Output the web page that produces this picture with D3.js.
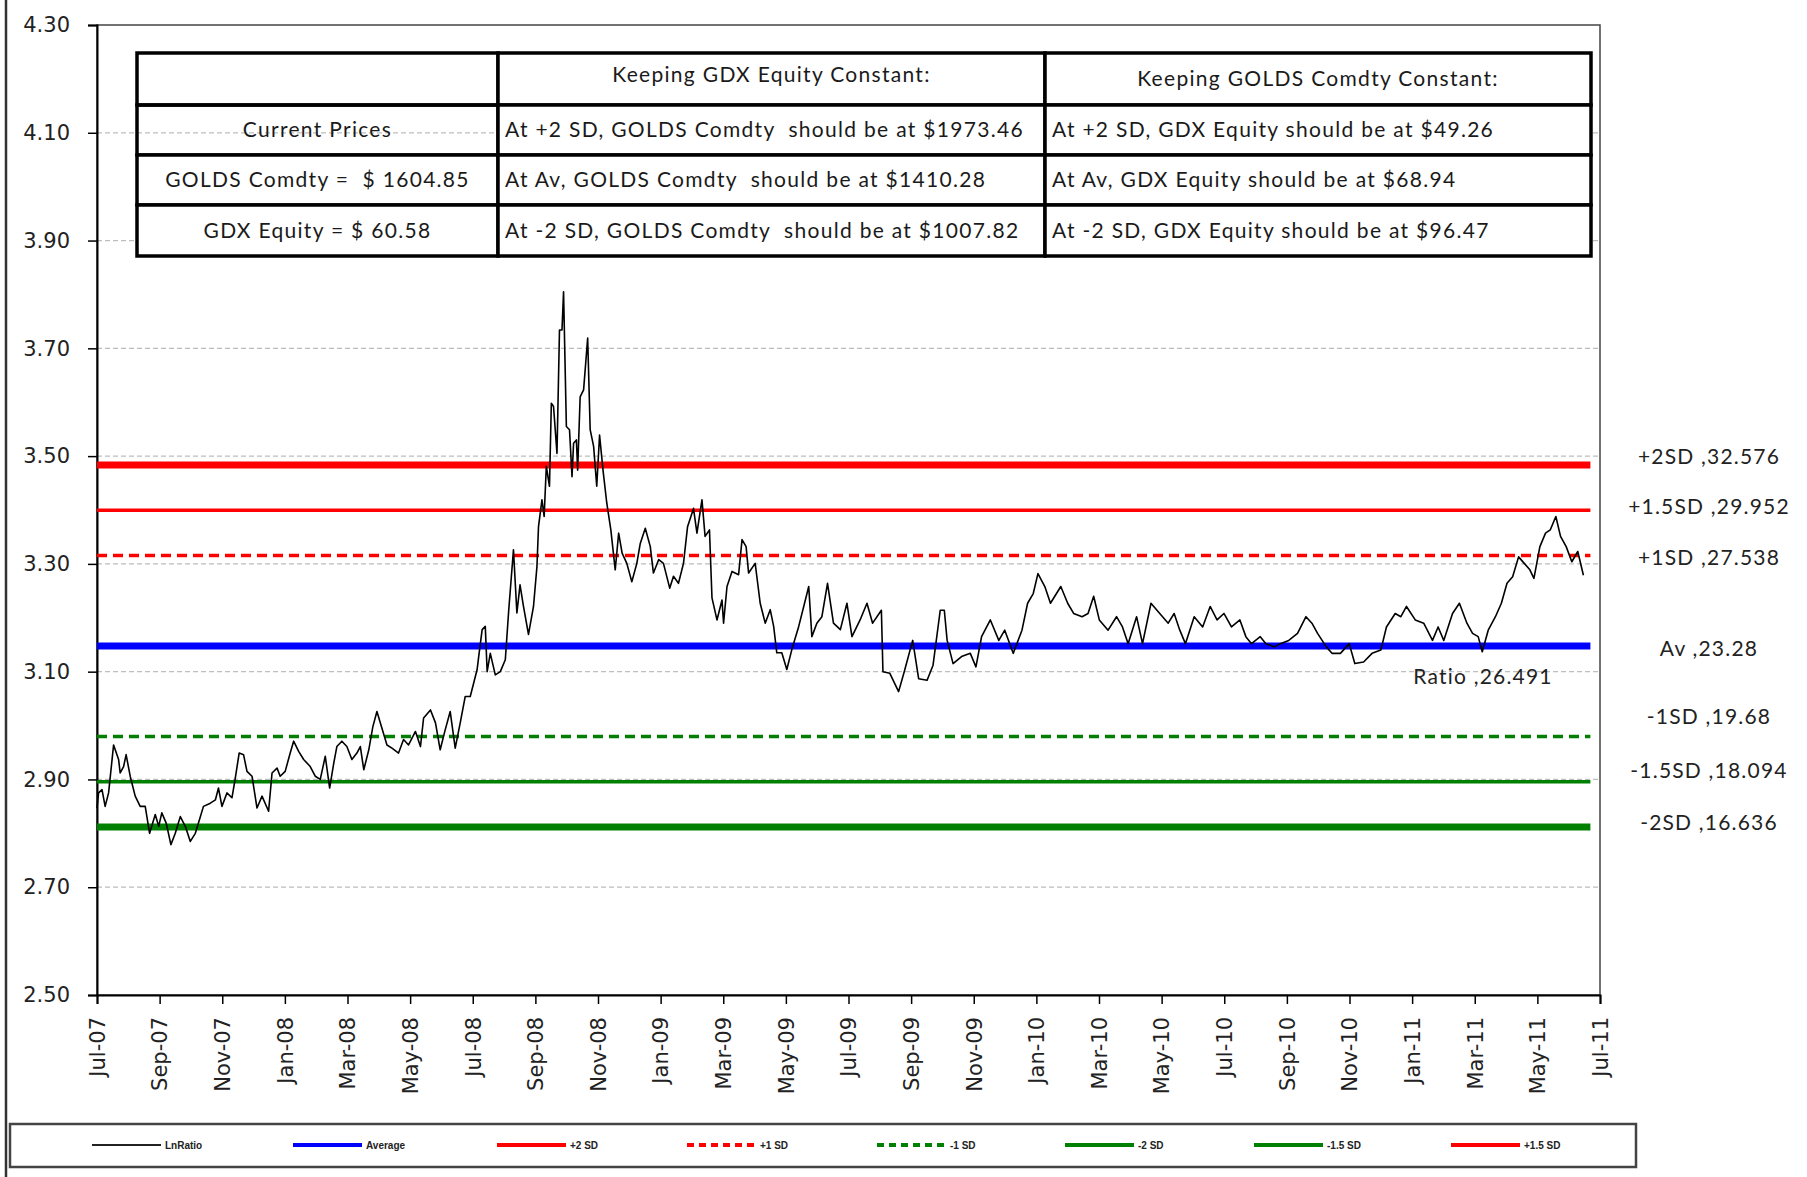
<!DOCTYPE html>
<html>
<head>
<meta charset="utf-8">
<script src="https://cdn.jsdelivr.net/npm/d3@7"></script>
<style>
  body { margin: 0; background: #fff; }
  svg { display: block; }
</style>
</head>
<body>
<div id="chart"></div>
<script>
// x axis labels, one every two months
var monthTicks = ["Jul-07", "Sep-07", "Nov-07", "Jan-08", "Mar-08", "May-08", "Jul-08", "Sep-08", "Nov-08",
    "Jan-09", "Mar-09", "May-09", "Jul-09", "Sep-09", "Nov-09", "Jan-10", "Mar-10", "May-10", "Jul-10",
    "Sep-10", "Nov-10", "Jan-11", "Mar-11", "May-11", "Jul-11"];
var yTicks = [2.50, 2.70, 2.90, 3.10, 3.30, 3.50, 3.70, 3.90, 4.10, 4.30];

// LnRatio series: months since Jul-07 and value
var months = [0.00, 0.05, 0.16, 0.26, 0.37, 0.53, 0.69, 0.74, 0.85, 0.93, 1.06, 1.22, 1.38, 1.54, 1.68, 1.86,
    1.97, 2.07, 2.21, 2.36, 2.50, 2.66, 2.82, 2.98, 3.14, 3.24, 3.40, 3.62, 3.78, 3.88, 3.99, 4.15, 4.31, 4.41,
    4.54, 4.68, 4.79, 4.95, 5.11, 5.27, 5.48, 5.59, 5.75, 5.85, 6.01, 6.17, 6.28, 6.44, 6.60, 6.81, 6.97, 7.13,
    7.29, 7.43, 7.56, 7.66, 7.82, 7.98, 8.14, 8.30, 8.41, 8.52, 8.68, 8.81, 8.94, 9.10, 9.26, 9.42, 9.63, 9.79,
    9.95, 10.17, 10.33, 10.43, 10.65, 10.81, 10.96, 11.12, 11.28, 11.44, 11.60, 11.76, 11.92, 12.03, 12.14,
    12.19, 12.30, 12.40, 12.46, 12.56, 12.72, 12.88, 13.04, 13.15, 13.30, 13.41, 13.51, 13.62, 13.78, 13.94,
    14.05, 14.10, 14.21, 14.28, 14.35, 14.45, 14.51, 14.58, 14.69, 14.77, 14.85, 14.90, 14.99, 15.09, 15.17,
    15.22, 15.31, 15.35, 15.43, 15.54, 15.67, 15.75, 15.86, 15.96, 16.05, 16.16, 16.28, 16.41, 16.55, 16.66,
    16.77, 16.92, 17.08, 17.24, 17.35, 17.51, 17.67, 17.77, 17.94, 18.09, 18.29, 18.41, 18.57, 18.73, 18.86,
    19.05, 19.16, 19.32, 19.42, 19.56, 19.64, 19.80, 19.96, 20.01, 20.12, 20.28, 20.49, 20.60, 20.73, 20.81,
    21.02, 21.18, 21.34, 21.50, 21.61, 21.71, 21.87, 22.03, 22.19, 22.41, 22.57, 22.73, 22.83, 22.99, 23.15,
    23.33, 23.52, 23.74, 23.95, 24.11, 24.37, 24.59, 24.77, 25.05, 25.10, 25.32, 25.60, 25.78, 26.05, 26.24,
    26.51, 26.70, 26.93, 27.06, 27.15, 27.34, 27.61, 27.89, 28.07, 28.25, 28.53, 28.80, 28.99, 29.26, 29.54,
    29.72, 29.90, 30.05, 30.27, 30.45, 30.78, 31.00, 31.19, 31.46, 31.65, 31.83, 32.01, 32.29, 32.56, 32.75,
    32.93, 33.20, 33.39, 33.66, 33.94, 34.21, 34.40, 34.58, 34.76, 35.04, 35.31, 35.55, 35.77, 35.99, 36.23,
    36.50, 36.69, 36.87, 37.15, 37.33, 37.60, 37.79, 38.06, 38.34, 38.61, 38.80, 38.98, 39.26, 39.44, 39.71,
    39.99, 40.17, 40.45, 40.72, 41.00, 41.18, 41.46, 41.64, 41.82, 42.10, 42.37, 42.65, 42.83, 43.01, 43.29,
    43.51, 43.75, 43.93, 44.11, 44.24, 44.43, 44.66, 44.85, 45.03, 45.21, 45.40, 45.58, 45.76, 45.89, 46.08,
    46.26, 46.41, 46.59, 46.74, 46.92, 47.10, 47.29, 47.47];
var lnRatio = [2.847, 2.875, 2.881, 2.850, 2.875, 2.964, 2.937, 2.912, 2.924, 2.946, 2.906, 2.869, 2.850, 2.850,
    2.800, 2.835, 2.813, 2.838, 2.819, 2.779, 2.800, 2.831, 2.813, 2.785, 2.800, 2.819, 2.850, 2.856, 2.862,
    2.884, 2.850, 2.875, 2.866, 2.900, 2.949, 2.946, 2.915, 2.906, 2.847, 2.869, 2.841, 2.912, 2.921, 2.906,
    2.915, 2.949, 2.971, 2.952, 2.937, 2.924, 2.906, 2.900, 2.943, 2.884, 2.930, 2.961, 2.971, 2.961, 2.937,
    2.949, 2.961, 2.918, 2.955, 2.998, 3.026, 2.995, 2.964, 2.958, 2.949, 2.974, 2.964, 2.989, 2.961, 3.014,
    3.029, 3.005, 2.955, 2.992, 3.026, 2.958, 3.005, 3.054, 3.054, 3.079, 3.104, 3.128, 3.178, 3.184, 3.100,
    3.134, 3.094, 3.100, 3.122, 3.215, 3.326, 3.209, 3.261, 3.221, 3.169, 3.221, 3.295, 3.369, 3.419, 3.388,
    3.481, 3.444, 3.598, 3.592, 3.505, 3.734, 3.734, 3.805, 3.555, 3.549, 3.462, 3.524, 3.530, 3.474, 3.610,
    3.623, 3.719, 3.549, 3.518, 3.444, 3.539, 3.474, 3.413, 3.363, 3.289, 3.357, 3.320, 3.301, 3.267, 3.301,
    3.338, 3.366, 3.332, 3.283, 3.308, 3.301, 3.255, 3.277, 3.264, 3.301, 3.369, 3.403, 3.357, 3.419, 3.351,
    3.363, 3.237, 3.196, 3.233, 3.190, 3.258, 3.286, 3.280, 3.345, 3.332, 3.283, 3.301, 3.227, 3.190, 3.215,
    3.184, 3.135, 3.135, 3.104, 3.141, 3.184, 3.221, 3.258, 3.165, 3.190, 3.202, 3.264, 3.190, 3.178, 3.227,
    3.165, 3.196, 3.227, 3.190, 3.214, 3.100, 3.097, 3.063, 3.100, 3.158, 3.087, 3.084, 3.112, 3.214, 3.214,
    3.158, 3.115, 3.128, 3.134, 3.109, 3.165, 3.196, 3.158, 3.177, 3.134, 3.177, 3.227, 3.245, 3.282, 3.258,
    3.227, 3.258, 3.227, 3.208, 3.202, 3.208, 3.240, 3.196, 3.177, 3.202, 3.183, 3.152, 3.202, 3.152, 3.227,
    3.208, 3.190, 3.208, 3.177, 3.152, 3.202, 3.183, 3.221, 3.196, 3.208, 3.183, 3.196, 3.165, 3.152, 3.165,
    3.152, 3.146, 3.152, 3.158, 3.171, 3.202, 3.190, 3.171, 3.146, 3.134, 3.134, 3.152, 3.115, 3.118, 3.134,
    3.140, 3.183, 3.208, 3.202, 3.221, 3.196, 3.190, 3.158, 3.183, 3.158, 3.208, 3.227, 3.190, 3.171, 3.165,
    3.137, 3.177, 3.202, 3.227, 3.264, 3.276, 3.313, 3.301, 3.289, 3.273, 3.332, 3.357, 3.363, 3.388, 3.351,
    3.332, 3.304, 3.323, 3.279];

// standard deviation bands (ratio values, drawn on the log scale)
var bandNames = ["+2SD", "+1.5SD", "+1SD", "Av", "-1SD", "-1.5SD", "-2SD"];
var bandRatios = [32.576, 29.952, 27.538, 23.28, 19.68, 18.094, 16.636];
var currentRatio = 26.491;

// table text
var tablePrices = ["Current Prices", "GOLDS Comdty =  $ 1604.85", "GDX Equity = $ 60.58"];
var tableGdxConst = ["Keeping GDX Equity Constant:", "At +2 SD, GOLDS Comdty  should be at $1973.46",
    "At Av, GOLDS Comdty  should be at $1410.28", "At -2 SD, GOLDS Comdty  should be at $1007.82"];
var tableGoldConst = ["Keeping GOLDS Comdty Constant:", "At +2 SD, GDX Equity should be at $49.26",
    "At Av, GDX Equity should be at $68.94", "At -2 SD, GDX Equity should be at $96.47"];

var legendNames = ["LnRatio", "Average", "+2 SD", "+1 SD", "-1 SD", "-2 SD", "-1.5 SD", "+1.5 SD"];

(function() {
    var width = 1807;
    var height = 1177;
    var plot = {left: 97, right: 1600, top: 25, bottom: 995};

    var svg = d3.select('#chart')
        .append('svg')
        .attr('width', width)
        .attr('height', height);

    var x = d3.scaleLinear()
        .domain([0, 48])
        .range([plot.left, plot.right]);

    var y = d3.scaleLinear()
        .domain([2.5, 4.3])
        .range([plot.bottom, plot.top]);

    // style of every band line
    var bandStyle = {
        "+2SD":   {color: "#ff0000", w: 7},
        "+1.5SD": {color: "#ff0000", w: 3.5},
        "+1SD":   {color: "#ff0000", w: 3.5, dash: "10,6"},
        "Av":     {color: "#0000ff", w: 7},
        "-1SD":   {color: "#008000", w: 3.5, dash: "10,6"},
        "-1.5SD": {color: "#008000", w: 3.5},
        "-2SD":   {color: "#008000", w: 7}
    };
    var labelY = {"+2SD": 457, "+1.5SD": 507, "+1SD": 558, "Av": 649, "-1SD": 717, "-1.5SD": 771, "-2SD": 823};

    // outer chart-area border on the left
    svg.append('line')
        .attr('x1', 6).attr('x2', 6).attr('y1', 0).attr('y2', height)
        .attr('stroke', '#333').attr('stroke-width', 2.5);

    // grid lines
    svg.append('g')
        .selectAll('line')
        .data(yTicks.slice(1, -1))
        .join('line')
            .attr('x1', plot.left).attr('x2', plot.right)
            .attr('y1', d => y(d)).attr('y2', d => y(d))
            .attr('stroke', '#bdbdbd')
            .attr('stroke-width', 1.3)
            .attr('stroke-dasharray', '5,3');

    // plot frame
    svg.append('rect')
        .attr('x', plot.left).attr('y', plot.top)
        .attr('width', plot.right - plot.left).attr('height', plot.bottom - plot.top)
        .attr('fill', 'none').attr('stroke', '#444').attr('stroke-width', 1.5);

    // y axis
    svg.append('g')
        .attr('transform', `translate(${plot.left}, 0)`)
        .call(d3.axisLeft(y).tickValues(yTicks).tickFormat(d3.format('.2f')).tickSize(9).tickPadding(18))
        .call(g => g.select('.domain').attr('stroke', '#000').attr('stroke-width', 2))
        .call(g => g.selectAll('.tick line').attr('stroke', '#000').attr('stroke-width', 1.5))
        .call(g => g.selectAll('text').attr('font-family', 'DejaVu Sans').attr('font-size', 21).attr('fill', '#222'));

    // x axis with rotated month labels
    svg.append('g')
        .attr('transform', `translate(0, ${plot.bottom})`)
        .call(d3.axisBottom(x).tickValues(d3.range(0, 49, 2)).tickFormat((d, i) => monthTicks[i]).tickSize(9))
        .call(g => g.select('.domain').attr('stroke', '#000').attr('stroke-width', 2))
        .call(g => g.selectAll('.tick line').attr('stroke', '#000').attr('stroke-width', 1.5))
        .call(g => g.selectAll('text')
            .attr('font-family', 'DejaVu Sans').attr('font-size', 21).attr('fill', '#222')
            .attr('text-anchor', 'end')
            .attr('transform', 'rotate(-90)')
            .attr('x', -22).attr('y', 0).attr('dy', '0.35em'));

    // band lines
    var x0 = x(months[0]);
    var x1 = x(months[months.length - 1]) + 7;
    svg.append('g')
        .selectAll('line')
        .data(bandNames)
        .join('line')
            .attr('x1', x0).attr('x2', x1)
            .attr('y1', (d, i) => y(Math.log(bandRatios[i])))
            .attr('y2', (d, i) => y(Math.log(bandRatios[i])))
            .attr('stroke', d => bandStyle[d].color)
            .attr('stroke-width', d => bandStyle[d].w)
            .attr('stroke-dasharray', d => bandStyle[d].dash || null);

    // LnRatio line
    var line = d3.line()
        .x((d, i) => x(months[i]))
        .y(d => y(d));
    svg.append('path')
        .datum(lnRatio)
        .attr('d', line)
        .attr('fill', 'none')
        .attr('stroke', '#000')
        .attr('stroke-width', 1.6)
        .attr('stroke-linejoin', 'round');

    // band labels on the right
    svg.append('g')
        .selectAll('text')
        .data(bandNames)
        .join('text')
            .attr('x', 1709)
            .attr('y', d => labelY[d])
            .attr('dy', '0.35em')
            .attr('text-anchor', 'middle')
            .attr('font-family', 'Lato')
            .attr('font-size', 21)
            .attr('letter-spacing', 1.2)
            .attr('fill', '#222')
            .text((d, i) => `${d} ,${bandRatios[i]}`);

    svg.append('text')
        .attr('x', 1483).attr('y', 677).attr('dy', '0.35em')
        .attr('text-anchor', 'middle')
        .attr('font-family', 'Lato').attr('font-size', 21).attr('letter-spacing', 1.2)
        .attr('fill', '#222')
        .text(`Ratio ,${currentRatio}`);

    // price table
    var colX = [137, 498, 1045, 1591];
    var rowY = [53, 105, 155, 205, 256];
    var cols = [[""].concat(tablePrices), tableGdxConst, tableGoldConst];
    var table = svg.append('g');
    cols.forEach(function(col, c) {
        col.forEach(function(txt, r) {
            table.append('rect')
                .attr('x', colX[c]).attr('y', rowY[r])
                .attr('width', colX[c + 1] - colX[c]).attr('height', rowY[r + 1] - rowY[r])
                .attr('fill', (c === 0 && r === 1) ? 'none' : '#fff')
                .attr('stroke', '#000').attr('stroke-width', 3.5);
            var centered = (c === 0 || r === 0);
            table.append('text')
                .attr('x', centered ? (colX[c] + colX[c + 1]) / 2 : colX[c] + 7)
                .attr('y', (rowY[r] + rowY[r + 1]) / 2 + (r === 0 && c === 1 ? -4 : 0))
                .attr('dy', '0.35em')
                .attr('text-anchor', centered ? 'middle' : 'start')
                .attr('font-family', 'Lato')
                .attr('font-size', 21)
                .attr('letter-spacing', 1.3)
                .attr('fill', '#1a1a1a')
                .style('white-space', 'pre')
                .text(txt);
        });
    });

    // legend
    var legend = svg.append('g');
    legend.append('rect')
        .attr('x', 10).attr('y', 1124).attr('width', 1626).attr('height', 43)
        .attr('fill', '#fff').attr('stroke', '#444').attr('stroke-width', 2.5);
    var legendStyle = [
        {color: "#222", w: 2},
        {color: "#0000ff", w: 4},
        {color: "#ff0000", w: 4},
        {color: "#ff0000", w: 4, dash: "7,5"},
        {color: "#008000", w: 4, dash: "7,5"},
        {color: "#008000", w: 4},
        {color: "#008000", w: 4},
        {color: "#ff0000", w: 4}
    ];
    var legendX = [92, 293, 497, 687, 877, 1065, 1254, 1451];
    var items = legend.selectAll('g')
        .data(legendNames)
        .join('g')
            .attr('transform', (d, i) => `translate(${legendX[i]}, 1145)`);
    items.append('line')
        .attr('x1', 0).attr('x2', 69)
        .attr('stroke', (d, i) => legendStyle[i].color)
        .attr('stroke-width', (d, i) => legendStyle[i].w)
        .attr('stroke-dasharray', (d, i) => legendStyle[i].dash || null);
    items.append('text')
        .attr('x', 73).attr('dy', '0.35em')
        .attr('font-family', 'Liberation Sans')
        .attr('font-size', 10)
        .attr('font-weight', 'bold')
        .attr('fill', '#222')
        .text(d => d);
})();
</script>
</body>
</html>
